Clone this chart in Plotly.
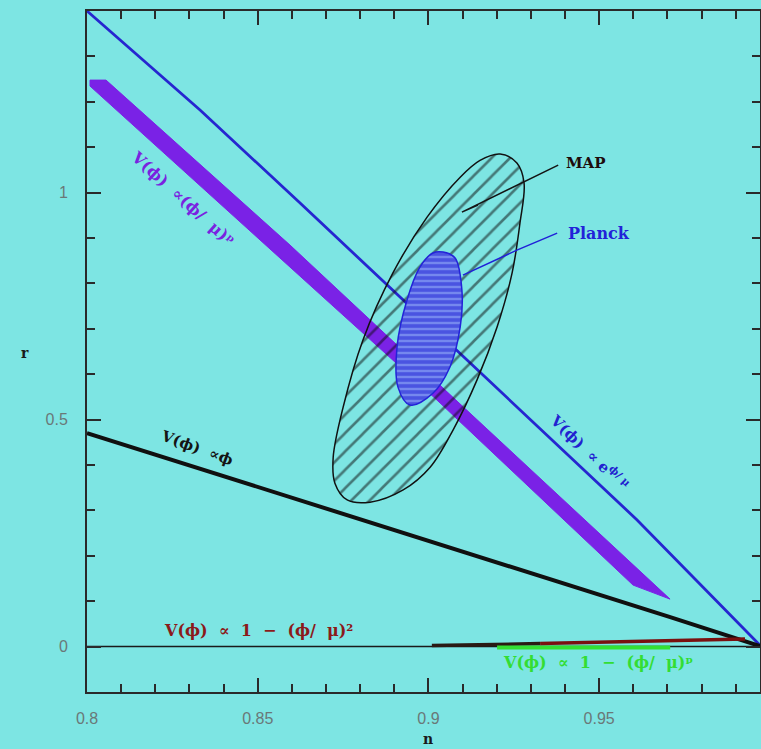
import plotly.graph_objects as go

# ---------------- data ----------------
x_range = [0.8, 0.9971]
y_range = [-0.1, 1.4]
x_tick_vals = [0.8, 0.85, 0.9, 0.95]
x_tick_text = ["0.8", "0.85", "0.9", "0.95"]
y_tick_vals = [0, 0.5, 1]
y_tick_text = ["0", "0.5", "1"]

# V ∝ exp(phi/mu)  (blue line)
exp_n = [0.8, 0.8331, 0.8624, 0.9268, 0.9611, 0.9971]
exp_r = [1.400, 1.182, 0.977, 0.521, 0.279, 0.003]

# V ∝ (phi/mu)^p  (purple band, outline)
large_n = [0.80088, 0.80557, 0.85946, 0.90837, 0.97076, 0.95992, 0.90251, 0.85946, 0.80088, 0.80088]
large_r = [1.2478, 1.2478, 0.8844, 0.5407, 0.1046, 0.1355, 0.5429, 0.8359, 1.2346, 1.2478]

# V ∝ phi  (black line)
lin_n = [0.8, 0.8858, 0.9708, 0.9971]
lin_r = [0.4703, 0.2676, 0.0650, 0.001]

# zero line
zero_n = [0.8, 0.9971]
zero_r = [0.0, 0.0]

# V ∝ 1-(phi/mu)^2  (dark / dark red)
small2a_n = [0.9010, 0.9327]
small2a_r = [0.0022, 0.0066]
small2b_n = [0.9327, 0.9649, 0.9927]
small2b_r = [0.0066, 0.0121, 0.0165]

# V ∝ 1-(phi/mu)^p  (green)
smallp_n = [0.9201, 0.9708]
smallp_r = [-0.0022, -0.0022]

# MAP contour
map_n = [0.9210, 0.9259, 0.9280, 0.9268, 0.9245, 0.9201, 0.9142, 0.9072, 0.9005, 0.8926,
         0.8829, 0.8762, 0.8726, 0.8721, 0.8750, 0.8808, 0.8896, 0.8996, 0.9093, 0.9151, 0.9210]
map_r = [1.085, 1.065, 1.021, 0.933, 0.823, 0.704, 0.587, 0.477, 0.395, 0.345,
         0.318, 0.323, 0.360, 0.417, 0.527, 0.675, 0.823, 0.946, 1.034, 1.071, 1.085]

# Planck contour
planck_n = [0.9043, 0.9078, 0.9098, 0.9093, 0.9063, 0.9013, 0.8946, 0.8911, 0.8908, 0.8937, 0.8975, 0.9013, 0.9043]
planck_r = [0.869, 0.856, 0.785, 0.704, 0.616, 0.558, 0.532, 0.571, 0.660, 0.763, 0.836, 0.867, 0.869]

# leader lines
map_lead_n = [0.9380, 0.9098, 0.9145]
map_lead_r = [1.0606, 0.9571, 0.9725]
planck_lead_n = [0.9377, 0.9259, 0.9101]
planck_lead_r = [0.9108, 0.8733, 0.8183]

# ---------------- figure ----------------
BG = "#7de5e3"
AX = "#2a2a2a"
fig = go.Figure()

def line(x, y, color, width, **kw):
    fig.add_trace(go.Scatter(x=x, y=y, mode="lines", line=dict(color=color, width=width, **kw),
                             hoverinfo="skip", showlegend=False))

line(zero_n, zero_r, "#1a1a1a", 1.5)
fig.add_trace(go.Scatter(x=large_n, y=large_r, mode="lines", fill="toself",
                         fillcolor="#7a22e6", line=dict(color="#7a22e6", width=1),
                         hoverinfo="skip", showlegend=False))
line(exp_n, exp_r, "#2626d0", 2.8)
line(lin_n, lin_r, "#101010", 4)
line(small2a_n, small2a_r, "#2a1a14", 3.5)
line(smallp_n, smallp_r, "#33e033", 4)
line(small2b_n, small2b_r, "#7a1010", 3.5)

fig.add_trace(go.Scatter(x=map_n, y=map_r, mode="lines", fill="toself",
                         fillcolor="rgba(0,0,0,0)",
                         fillpattern=dict(shape="/", fgcolor="#0c0c0c", bgcolor="rgba(0,0,0,0)",
                                          size=13, solidity=0.2),
                         line=dict(color="#111111", width=1.5, shape="spline", smoothing=1),
                         hoverinfo="skip", showlegend=False))
fig.add_trace(go.Scatter(x=planck_n, y=planck_r, mode="lines", fill="toself",
                         fillcolor="rgba(0,0,0,0)",
                         fillpattern=dict(shape="-", fgcolor="#2020d4", bgcolor="#7588ee",
                                          size=6, solidity=0.6),
                         line=dict(color="#2323d8", width=1.5, shape="spline", smoothing=1),
                         hoverinfo="skip", showlegend=False))
line(map_lead_n, map_lead_r, "#141414", 1.5)
line(planck_lead_n, planck_lead_r, "#2020d8", 1.5)

# invisible trace for the mirrored top/right axes
fig.add_trace(go.Scatter(x=x_range, y=y_range, xaxis="x2", yaxis="y2", mode="markers",
                         marker=dict(opacity=0), hoverinfo="skip", showlegend=False))

SERIF = "DejaVu Serif"
NB = "\u00a0"
def note(text, x, y, color, size=16, angle=0, xanchor="center", yanchor="middle", xref="x", yref="y"):
    fig.add_annotation(text=text, x=x, y=y, xref=xref, yref=yref, showarrow=False,
                       textangle=angle, xanchor=xanchor, yanchor=yanchor, borderpad=0,
                       font=dict(family=SERIF, size=size, color=color))

note("<b>MAP</b>", 0.9400, 1.065, "#1e0c0c", size=15, xanchor="left")
note("<b>Planck</b>", 0.9406, 0.9108, "#2222d8", size=16, xanchor="left")
note(f"<b>V(ϕ){NB}{NB}∝{NB}{NB}1{NB}{NB}−{NB}{NB}(ϕ/{NB}{NB}μ)²</b>", 0.8501, 0.0363, "#8b1a1a", size=16)
note(f"<b>V(ϕ){NB}{NB}∝{NB}{NB}1{NB}{NB}−{NB}{NB}(ϕ/{NB}{NB}μ)ᵖ</b>", 0.9497, -0.0341, "#33dd33", size=16)
note(f"<b>V(ϕ){NB}{NB}∝ϕ</b>", 0.8322, 0.4372, "#141414", size=15, angle=20)
note(f"<b>V(ϕ){NB}{NB}∝(ϕ/{NB}{NB}μ)ᵖ</b>", 0.8281, 0.9879, "#7a22e0", size=16, angle=42)
note(f"<b>V(ϕ){NB}{NB}∝{NB}e<sup>ϕ/{NB}μ</sup></b>", 0.9473, 0.4284, "#2222d0", size=15, angle=44)
note("<b>n</b>", 0.5067, -0.0690, "#1a1a1a", size=14, xref="paper", yref="paper")
note("<b>r</b>", -0.0921, 0.4978, "#1a1a1a", size=14, xref="paper", yref="paper")

axis_common = dict(showline=True, linecolor=AX, linewidth=2,
                   ticks="inside", ticklen=14, tickwidth=2, tickcolor=AX,
                   showgrid=False, zeroline=False,
                   tickfont=dict(family="Liberation Sans", size=16, color="#6a7878"))
xminor = dict(dtick=0.01, tick0=0.8, ticklen=8, tickwidth=2, tickcolor=AX, ticks="inside", showgrid=False)
yminor = dict(dtick=0.1, tick0=0, ticklen=8, tickwidth=2, tickcolor=AX, ticks="inside", showgrid=False)

fig.update_layout(
    xaxis=dict(range=x_range, tickvals=x_tick_vals, ticktext=x_tick_text, minor=xminor,
               ticklabelstandoff=11, **axis_common),
    yaxis=dict(range=y_range, tickvals=y_tick_vals, ticktext=y_tick_text, minor=yminor,
               ticklabelstandoff=14, **axis_common),
    xaxis2=dict(range=x_range, tickvals=x_tick_vals, minor=xminor, overlaying="x", side="top",
                showticklabels=False, anchor="y2", **axis_common),
    yaxis2=dict(range=y_range, tickvals=y_tick_vals, minor=yminor, overlaying="y", side="right",
                showticklabels=False, anchor="x2", **axis_common),
    width=761, height=749, paper_bgcolor=BG, plot_bgcolor=BG,
    margin=dict(l=87, r=1, t=11, b=57), showlegend=False)

fig.write_html("out.html", config={"displayModeBar": False},
               post_script="document.body.style.margin='0';document.body.style.overflow='hidden';document.body.style.background='" + BG + "';")
